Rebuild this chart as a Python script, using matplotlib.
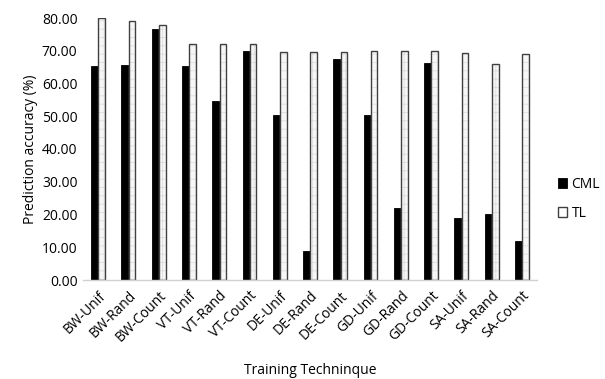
import numpy as np
import matplotlib.pyplot as plt

# ============================================================
# DATA
# ============================================================
techniques = ["BW-Unif", "BW-Rand", "BW-Count", "VT-Unif", "VT-Rand", "VT-Count",
              "DE-Unif", "DE-Rand", "DE-Count", "GD-Unif", "GD-Rand", "GD-Count",
              "SA-Unif", "SA-Rand", "SA-Count"]
cml = [65.3, 65.5, 76.5, 65.3, 54.8, 70.0, 50.4, 8.9, 67.4, 50.4, 21.9, 66.4, 18.9, 20.1, 12.0]
tl = [80.0, 79.0, 78.0, 72.1, 72.0, 72.0, 69.7, 69.7, 69.7, 69.9, 69.9, 69.9, 69.3, 66.1, 68.9]

plt.rcParams['font.family'] = ['Open Sans', 'DejaVu Sans']
plt.rcParams['hatch.linewidth'] = 0.5
FS = 10

fig = plt.figure(figsize=(6.05, 3.79), dpi=100)
n = len(techniques)
ax = fig.add_axes([83 / 605, 1 - 280 / 379, (537 - 83) / 605, (280 - 18) / 379])

x = np.arange(n)
w = 0.22
ax.bar(x - 0.12, cml, w, color="black", edgecolor="black", linewidth=0.6, label="CML")
# light patterned fill, then dark outline on top
ax.bar(x + 0.12, tl, w, color="#f6f6f6", edgecolor="#dadada", linewidth=0, hatch="++")
ax.bar(x + 0.12, tl, w, facecolor="none", edgecolor="#404040", linewidth=1.0, label="TL")

ax.set_xlim(-0.5, n - 0.5)
ax.set_ylim(0, 80)
ax.set_yticks(np.arange(0, 81, 10))
ax.set_yticklabels([f"{v:.2f}" for v in np.arange(0, 81, 10)], fontsize=FS)
ax.set_xticks(x)
ax.set_xticklabels(techniques, rotation=45, ha="right", rotation_mode="anchor", fontsize=FS)
ax.tick_params(length=0, pad=4)
ax.tick_params(axis="x", pad=6)

for s in ["top", "right", "left"]:
    ax.spines[s].set_visible(False)
ax.spines["bottom"].set_color("#d0d0d0")
ax.spines["bottom"].set_linewidth(1.0)

ax.set_ylabel("Prediction accuracy (%)", fontsize=FS, labelpad=3)
fig.text(310 / 605, 1 - 371 / 379, "Training Techninque", ha="center", va="center", fontsize=FS)

fig.legend(loc="center left", bbox_to_anchor=(548 / 605, 1 - 199 / 379), frameon=False,
           fontsize=FS, handlelength=0.7, handleheight=0.7, handletextpad=0.3,
           labelspacing=1.0, borderpad=0.2)

fig.savefig("out.png", dpi=100)
